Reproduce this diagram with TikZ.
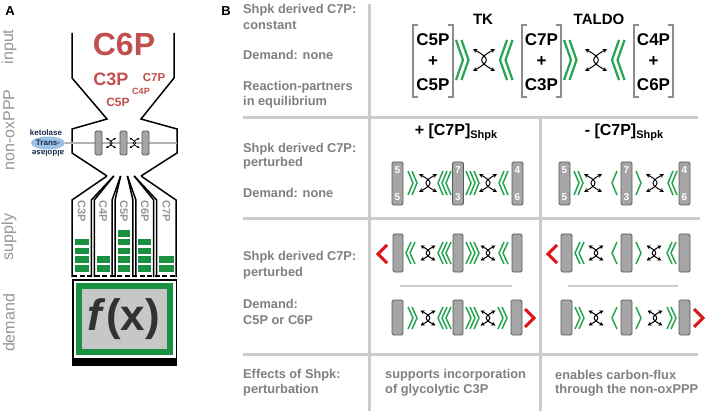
\documentclass[tikz,border=0pt]{standalone}
\usepackage{fontspec}
\setmainfont{Liberation Sans}
\usetikzlibrary{arrows.meta,shapes.geometric}
\definecolor{lblgray}{RGB}{150,150,150}
\definecolor{txtgray}{RGB}{128,128,128}
\definecolor{linegray}{RGB}{204,204,204}
\definecolor{cred}{RGB}{192,80,77}
\definecolor{dgreen}{RGB}{25,145,65}
\definecolor{bgreen}{RGB}{40,165,80}
\definecolor{rred}{RGB}{225,20,20}
\definecolor{bargray}{RGB}{165,165,165}
\definecolor{bardark}{RGB}{90,90,90}
\definecolor{ellblue}{RGB}{155,195,230}
\definecolor{navy}{RGB}{30,40,80}
\definecolor{fxgray}{RGB}{50,50,50}
\newcommand{\fs}[1]{\fontsize{#1}{#1}\selectfont}
\newcommand{\gchevR}[6]{% x y n halfheight width spacing
  \foreach \k in {1,...,#3}{\draw[gch] ({#1+(\k-1)*#6},{#2-#4}) -- ++(#5,#4) -- ++(-#5,#4);}}
\newcommand{\gchevL}[6]{%
  \foreach \k in {1,...,#3}{\draw[gch] ({#1+(\k-1)*#6+#5},{#2-#4}) -- ++(-#5,#4) -- ++(#5,#4);}}
\newcommand{\rchevL}[2]{\draw[rch] ({#1+9},{#2-9}) -- (#1,#2) -- ({#1+9},{#2+9});}
\newcommand{\rchevR}[2]{\draw[rch] (#1,{#2-9}) -- ({#1+9},#2) -- (#1,{#2+9});}
\newcommand{\xarrow}[3]{%
  \draw[xarr] ({#1-#3},{#2-#3}) .. controls ({#1+0.55*#3},{#2-0.15*#3}) and ({#1+0.55*#3},{#2+0.15*#3}) .. ({#1-#3},{#2+#3});
  \draw[xarr] ({#1+#3},{#2-#3}) .. controls ({#1-0.55*#3},{#2-0.15*#3}) and ({#1-0.55*#3},{#2+0.15*#3}) .. ({#1+#3},{#2+#3});}
\newcommand{\gbar}[4]{\draw[bar] (#1,#2) rectangle (#3,#4);}
\newcommand{\nbar}[7]{% x1 y1 x2 y2 top bottom name
  \draw[bar] (#1,#2) rectangle (#3,#4);
  \node[barnum] (#7t) at ({(#1+#3)/2},{#2+8}) {#5};
  \node[barnum] (#7b) at ({(#1+#3)/2},{#4-8}) {#6};}
\newcommand{\brak}[4]{%
  \draw[brk] ({#1+5},#2) -- (#1,#2) -- (#1,#4) -- ({#1+5},#4);
  \draw[brk] ({#3-5},#2) -- (#3,#2) -- (#3,#4) -- ({#3-5},#4);}
\begin{document}
\begin{tikzpicture}[x=1pt,y=-1pt,
  sidelbl/.style={font=\fs{16}, text=lblgray, rotate=90, inner sep=0},
  desc/.style={font=\bfseries\fs{12.8}, text=txtgray, anchor=west, inner sep=0},
  sep/.style={line width=3pt, draw=linegray},
  thinsep/.style={line width=1.3pt, draw=linegray},
  gch/.style={draw=bgreen, line width=1.5pt, line join=miter},
  rch/.style={draw=rred, line width=3pt, line join=miter},
  xarr/.style={line width=1pt, {Stealth[length=4.2pt,width=4.2pt]}-{Stealth[length=4.2pt,width=4.2pt]}},
  smallx/.style={xarr/.append style={line width=0.7pt, {Stealth[length=2.6pt,width=2.6pt]}-{Stealth[length=2.6pt,width=2.6pt]}}},
  bar/.style={fill=bargray, draw=bardark, line width=0.8pt, rounded corners=1.5pt},
  barnum/.style={text=white, font=\bfseries\fs{10}, inner sep=0},
  brk/.style={draw=black!45, line width=1.4pt},
  funnel/.style={draw=black, line width=1.5pt},
  collbl/.style={font=\bfseries\fs{11}, text=lblgray, rotate=-90, inner sep=0},
  brtxt/.style={font=\bfseries\fs{17}, inner sep=0},
  hdr/.style={font=\bfseries\fs{16}, inner sep=0}]
\useasboundingbox (0,0) rectangle (708,411);
\fill[white] (0,0) rectangle (708,411);
% ---------------- Panel A ----------------
\node[font=\bfseries\fs{13}, inner sep=0] (A) at (10,11) {A};
\node[sidelbl] (l1) at (9,47) {input};
\node[sidelbl] (l2) at (9,130) {non-oxPPP};
\node[sidelbl] (l3) at (9,237) {supply};
\node[sidelbl] (l4) at (9,323) {demand};
% funnel
\draw[funnel] (72,33) -- (72,78) -- (107,119) -- (72,129) -- (72,153) -- (107,176);
\draw[funnel] (174,33) -- (174,78) -- (141,119) -- (177,129) -- (177,153) -- (141,176);
\node[font=\bfseries\fs{32}, text=cred, inner sep=0] (c6) at (124,44) {C6P};
\node[font=\bfseries\fs{18}, text=cred, inner sep=0] (c3) at (111,79) {C3P};
\node[font=\bfseries\fs{11.5}, text=cred, inner sep=0] (c7) at (154,78) {C7P};
\node[font=\bfseries\fs{9}, text=cred, inner sep=0] (c4) at (141,91) {C4P};
\node[font=\bfseries\fs{12}, text=cred, inner sep=0] (c5) at (118,102) {C5P};
% non-oxPPP box
\node[ellipse, fill=ellblue, minimum width=34pt, minimum height=13pt, inner sep=0, font=\bfseries\fs{8}, text=navy] (ell) at (48,143) {Trans-};
\node[font=\bfseries\fs{8}, text=navy, inner sep=0] (ket) at (46,133) {ketolase};
\node[font=\bfseries\fs{8}, text=navy, inner sep=0, rotate=180] (ald) at (48,153.5) {aldolase};
\draw[line width=1.5pt, draw=black!30] (ell.east) -- (177,143);
\gbar{95}{131}{102}{155}
\gbar{120}{131}{127}{155}
\gbar{142}{131}{149}{155}
\begin{scope}[smallx]
\xarrow{111}{143}{5}
\xarrow{134.5}{143}{5}
\end{scope}
% columns
\foreach \i/\n/\lab in {0/4/C3P,1/2/C4P,2/5/C5P,3/4/C6P,4/2/C7P}{
  \pgfmathsetmacro{\xl}{72+\i*20.8+ifthenelse(\i>0,1.5,0)}
  \pgfmathsetmacro{\xr}{72+(\i+1)*20.8-ifthenelse(\i<4,1.5,0)}
  \pgfmathsetmacro{\nl}{107+\i*6.8}
  \pgfmathsetmacro{\nr}{107+(\i+1)*6.8}
  \draw[funnel] (\nl,176) -- (\xl,200) -- (\xl,277);
  \draw[funnel] (\nr,176) -- (\xr,200) -- (\xr,277);
  \node[collbl] (col\i) at ({(\xl+\xr)/2},211) {\lab};
  \foreach \r in {1,...,\n}{\fill[dgreen] ({\xl+2.5},{265-(\r-1)*8.7}) rectangle ({\xr-2.5},{271.5-(\r-1)*8.7});}
}
\draw[black, line width=1.3pt, dash pattern=on 5pt off 2.5pt] (72,276) -- (177,276);
% demand box
\fill[black] (72,279) rectangle (177,366);
\fill[white] (73.5,280.5) rectangle (175.5,358);
\draw[dgreen, line width=6pt, fill=black!22] (79,286) rectangle (170,352);
\node[font=\bfseries\fs{44}, text=fxgray, inner sep=0] (fx) at (124,319) {\textit{f}(x)};
% ---------------- Panel B ----------------
\node[font=\bfseries\fs{13}, inner sep=0] (B) at (226,11) {B};
\draw[sep] (369,4) -- (369,411);
\draw[sep] (243,118) -- (698,118);
\draw[sep] (540,118) -- (540,411);
\draw[sep] (243,219) -- (700,219);
\draw[sep] (243,354) -- (698,354);
\draw[thinsep] (400,286) -- (512,286);
\draw[thinsep] (568,286) -- (678,286);
% left descriptions
\node[desc] (d1) at (243,10) {Shpk derived C7P:};
\node[desc] (d2) at (243,25) {constant};
\node[desc] (d3) at (243,55) {Demand: none};
\node[desc] (d4) at (243,87) {Reaction-partners};
\node[desc] (d5) at (243,102) {in equilibrium};
\node[desc] (d6) at (243,149) {Shpk derived C7P:};
\node[desc] (d7) at (243,163) {perturbed};
\node[desc] (d8) at (243,193) {Demand: none};
\node[desc] (d9) at (243,257) {Shpk derived C7P:};
\node[desc] (d10) at (243,273) {perturbed};
\node[desc] (d11) at (243,304) {Demand:};
\node[desc] (d12) at (243,320) {C5P or C6P};
\node[desc] (d13) at (243,375) {Effects of Shpk:};
\node[desc] (d14) at (243,390) {perturbation};
\node[desc] (e1) at (385,375) {supports incorporation};
\node[desc] (e2) at (385,390) {of glycolytic C3P};
\node[desc] (e3) at (555,375) {enables carbon-flux};
\node[desc] (e4) at (555,390) {through the non-oxPPP};
% row 1
\node[font=\bfseries\fs{15}, inner sep=0] (tk) at (483,19) {TK};
\node[font=\bfseries\fs{15}, inner sep=0] (taldo) at (599,19) {TALDO};
\brak{413}{25}{453}{97}
\node[brtxt] (b1a) at (433,40) {C5P};
\node[brtxt] (b1b) at (433,62) {+};
\node[brtxt] (b1c) at (433,85) {C5P};
\brak{522}{25}{561}{97}
\node[brtxt] (b2a) at (541.5,40) {C7P};
\node[brtxt] (b2b) at (541.5,62) {+};
\node[brtxt] (b2c) at (541.5,85) {C3P};
\brak{634}{25}{673}{97}
\node[brtxt] (b3a) at (653.5,40) {C4P};
\node[brtxt] (b3b) at (653.5,62) {+};
\node[brtxt] (b3c) at (653.5,85) {C6P};
\begin{scope}[gch/.append style={line width=2.2pt}]
\gchevR{456}{60}{2}{20}{7}{5.5}
\gchevL{500}{60}{2}{20}{7}{5.5}
\gchevR{564}{60}{2}{20}{7}{5.5}
\gchevL{612}{60}{2}{20}{7}{5.5}
\end{scope}
\xarrow{484}{60}{11}
\xarrow{596}{60}{11}
% row 2 headers
\node[hdr] (h1) at (456,132) {+ [C7P]\raisebox{-3pt}{\fs{11}Shpk}};
\node[hdr] (h2) at (624,132) {- [C7P]\raisebox{-3pt}{\fs{11}Shpk}};
% row 2 col 2
\nbar{392}{162}{403}{205}{5}{5}{r2a}
\nbar{452.5}{162}{463.5}{205}{7}{3}{r2b}
\nbar{512}{162}{523}{205}{4}{6}{r2c}
\gchevR{408}{183}{2}{12}{5}{4}
\xarrow{428}{183}{9}
\gchevL{438}{183}{3}{12}{5}{4}
\gchevR{466}{183}{3}{12}{5}{4}
\xarrow{488}{183}{9}
\gchevL{499}{183}{2}{12}{5}{4}
% row 2 col 3
\nbar{559}{162}{570}{205}{5}{5}{r3a}
\nbar{621}{162}{632}{205}{7}{3}{r3b}
\nbar{679}{162}{690}{205}{4}{6}{r3c}
\gchevR{574}{183}{2}{12}{5}{4}
\xarrow{593}{183}{9}
\gchevL{612}{183}{1}{12}{5}{4}
\gchevR{636}{183}{1}{12}{5}{4}
\xarrow{655}{183}{9}
\gchevL{668}{183}{2}{12}{5}{4}
% row 3 col 2 upper
\rchevL{378}{254}
\gbar{393}{234}{403}{272}
\gbar{453}{234}{463}{272}
\gbar{512}{234}{522}{272}
\gchevL{406}{253}{2}{11}{5}{4}
\xarrow{428}{253}{7.5}
\gchevL{438}{253}{3}{11}{5}{4}
\gchevR{466}{253}{3}{11}{5}{4}
\xarrow{488}{253}{7.5}
\gchevL{499}{253}{2}{11}{5}{4}
% row 3 col 2 lower
\gbar{392}{300}{403}{335}
\gbar{453}{300}{463}{335}
\gbar{511}{300}{522}{335}
\rchevR{525}{318}
\gchevR{408}{318}{2}{11}{5}{4}
\xarrow{428}{318}{7.5}
\gchevL{438}{318}{3}{11}{5}{4}
\gchevR{466}{318}{3}{11}{5}{4}
\xarrow{488}{318}{7.5}
\gchevR{498}{318}{2}{11}{5}{4}
% row 3 col 3 upper
\rchevL{548}{254}
\gbar{561}{234}{572}{272}
\gbar{621}{234}{632}{272}
\gbar{679}{234}{690}{272}
\gchevL{575}{253}{2}{11}{5}{4}
\xarrow{596}{253}{7.5}
\gchevL{612}{253}{1}{11}{5}{4}
\gchevR{636}{253}{1}{11}{5}{4}
\xarrow{654}{253}{7.5}
\gchevL{667}{253}{2}{11}{5}{4}
% row 3 col 3 lower
\gbar{561}{300}{572}{335}
\gbar{621}{300}{632}{335}
\gbar{679}{300}{690}{335}
\rchevR{694}{318}
\gchevR{575}{318}{2}{11}{5}{4}
\xarrow{596}{318}{7.5}
\gchevL{612}{318}{1}{11}{5}{4}
\gchevR{636}{318}{1}{11}{5}{4}
\xarrow{655}{318}{7.5}
\gchevR{667}{318}{2}{11}{5}{4}
\end{tikzpicture}
\end{document}
